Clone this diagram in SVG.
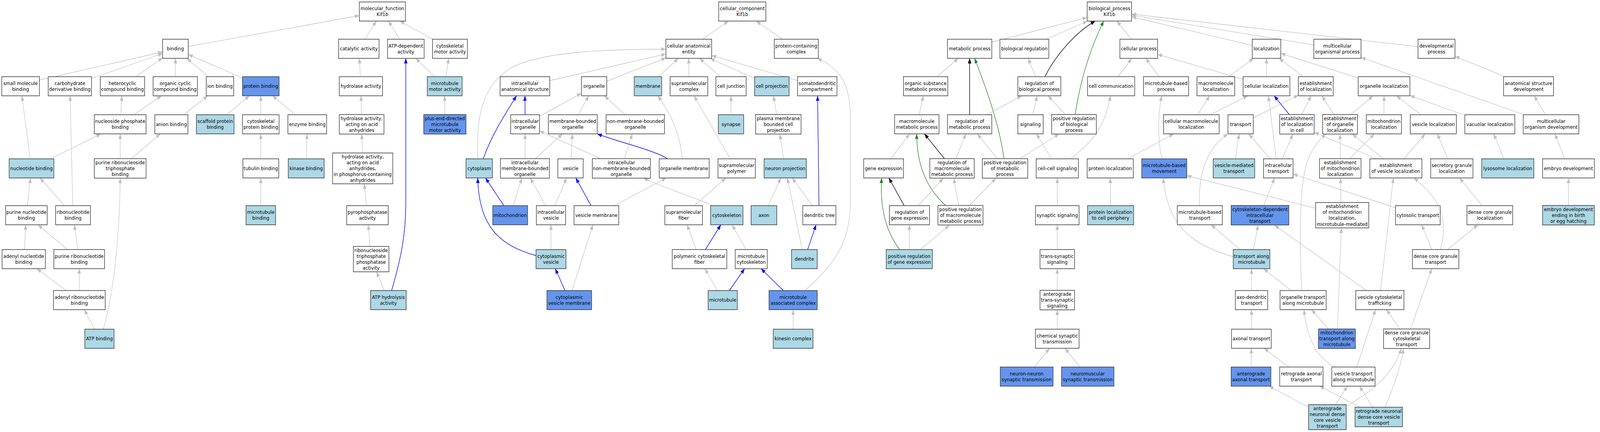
<svg xmlns="http://www.w3.org/2000/svg" width="4533" height="1107" viewBox="0 0 4533 1107">
<style>
.w rect{fill:#ffffff;stroke:#333333;stroke-width:1.5}
.l rect{fill:#add8e6;stroke:#333333;stroke-width:1.5}
.c rect{fill:#6495ed;stroke:#333333;stroke-width:1.5}
text{font-family:'DejaVu Sans','Liberation Sans',sans-serif;font-size:13px;text-anchor:middle;fill:#000000}
#edges path{fill:none;stroke:#c0c0c0;stroke-width:1.3;marker-end:url(#ag)}
#edges path.b{stroke:#0000ff;stroke-width:1.5;marker-end:url(#ab)}
#edges path.k{stroke:#000000;stroke-width:1.5;marker-end:url(#ak)}
#edges path.g{stroke:#228b22;stroke-width:1.5;marker-end:url(#agr)}
</style>
<defs>
<marker id="ag" viewBox="0 0 13 10" refX="13" refY="5" markerWidth="13" markerHeight="10" orient="auto" markerUnits="userSpaceOnUse"><path d="M0,0 L13,5 L0,10 z" fill="#c0c0c0"/></marker>
<marker id="ab" viewBox="0 0 13 10" refX="13" refY="5" markerWidth="13" markerHeight="10" orient="auto" markerUnits="userSpaceOnUse"><path d="M0,0 L13,5 L0,10 z" fill="#0000ff"/></marker>
<marker id="ak" viewBox="0 0 13 10" refX="13" refY="5" markerWidth="13" markerHeight="10" orient="auto" markerUnits="userSpaceOnUse"><path d="M0,0 L13,5 L0,10 z" fill="#000000"/></marker>
<marker id="agr" viewBox="0 0 13 10" refX="13" refY="5" markerWidth="13" markerHeight="10" orient="auto" markerUnits="userSpaceOnUse"><path d="M0,0 L13,5 L0,10 z" fill="#228b22"/></marker>
</defs>
<rect x="0" y="0" width="4533" height="1107" fill="#ffffff"/>
<g id="diagram" transform="scale(0.901 1)">
<g id="edges">
<path d="M535,119 L1021,40"/>
<path d="M112,205 L462,133"/>
<path d="M260,201 L462,137"/>
<path d="M386,196.5 L462,148"/>
<path d="M498,196.5 L498.5,149.5"/>
<path d="M592.7,196.5 L530.8,149.5"/>
<path d="M689,200 L535,139.5"/>
<path d="M1036.7,100.5 L1069.3,54"/>
<path d="M1135.9,100.5 L1103.6,54"/>
<path d="M1229.2,100.5 L1135.8,54"/>
<path d="M1024,196.5 L1021,149.5"/>
<path d="M1235.3,196.5 L1181.2,149.5"/>
<path d="M1267.3,196.5 L1274.7,149.5"/>
<path d="M85.9,407 L62.1,245.5"/>
<path d="M206.8,527 L199.2,245.5"/>
<path d="M343.1,294 L346.4,245.5"/>
<path d="M380.8,294 L458.7,245.5"/>
<path d="M521.7,294 L590.3,245.5"/>
<path d="M644,294 L708.5,245.5"/>
<path d="M741,294 L741,245.5"/>
<path d="M839.8,294 L774.2,245.5"/>
<path d="M1027,293.5 L1026,245.5"/>
<path d="M1264,293.5 L1263.5,245.5"/>
<path d="M144.1,407 L286.9,343"/>
<path d="M341.5,406.5 L341.5,343"/>
<path d="M373,406.5 L455.5,343"/>
<path d="M741,407 L741,343"/>
<path d="M870.6,407 L872.4,343"/>
<path d="M1030.4,392 L1027.6,343.5"/>
<path d="M78,527 L86.5,456"/>
<path d="M183.4,527 L113.6,456"/>
<path d="M741,527 L741,456"/>
<path d="M1041.2,527 L1034.9,471"/>
<path d="M69.1,639.5 L73.4,576"/>
<path d="M192.3,639.5 L107.7,576"/>
<path d="M221.2,639.5 L211.3,576"/>
<path d="M1051.5,631.5 L1046.3,576"/>
<path d="M188.6,744.5 L104.4,688.5"/>
<path d="M225.4,744.5 L225.1,688.5"/>
<path d="M1092.1,744.5 L1069.7,696.5"/>
<path d="M268.4,843.5 L239.6,793.5"/>
<path d="M293.5,843.5 C320,760 340,620 341.5,456.5"/>
<path class="b" d="M1112.7,744.5 C1140,660 1153,600 1153,520 L1153,149.5"/>
<path d="M1996,100.5 L2070,54"/>
<path d="M2223.1,100.5 L2148.4,54"/>
<path d="M1562,206.5 L1892,138.4"/>
<path d="M1357.5,407 C1352,300 1370,220 1450,175 C1530,135 1700,126 1892,126"/>
<path d="M1724,208.2 L1892,148.2"/>
<path d="M1870.6,196.5 L1927.4,149.5"/>
<path d="M1957.5,196.5 L1957,149.5"/>
<path d="M2046.4,196.5 L1987.6,149.5"/>
<path d="M2144,201.1 L2017.2,149.5"/>
<path d="M2266,206.3 L2022,142.1"/>
<path class="b" d="M1492,294 L1491.5,245.5"/>
<path d="M1533,298.1 L1652,238.9"/>
<path d="M1642.7,294 L1672.8,245.5"/>
<path d="M1775.6,294 L1717.4,245.5"/>
<path d="M2077,294 L2077,245.5"/>
<path d="M2206.9,293.5 L2197.6,245.5"/>
<path class="b" d="M1373,407 C1395,350 1430,300 1467.5,245.5"/>
<path d="M1491.5,406.5 L1492,343"/>
<path d="M1521,406.5 L1598,343"/>
<path d="M1622.4,407 L1626.1,343"/>
<path d="M1706.2,406.5 L1533,335.4"/>
<path d="M1774.1,406.5 L1796.4,343"/>
<path class="b" d="M1897,407 C1860,385 1760,365 1697,343"/>
<path d="M1939,407 C1930,330 1900,285 1869,245.5"/>
<path d="M2074.7,407 L1972,245.5"/>
<path d="M2226.8,407 L2215.7,343.5"/>
<path class="b" d="M1431.5,527 L1379.5,456"/>
<path d="M1458.1,527 L1482.9,456.5"/>
<path d="M1550.4,527 L1506.6,456.5"/>
<path d="M1576.8,527 L1609.7,456"/>
<path class="b" d="M1679.5,527 L1636,456"/>
<path d="M1745.4,527 L1893.1,456"/>
<path d="M1973.2,527 L2062.3,456"/>
<path d="M2024,527 C1960,500 1880,480 1828,456.5"/>
<path d="M2182.9,527 L2218.6,456"/>
<path d="M2308.2,527 L2250.8,456"/>
<path class="b" d="M2327,527 L2323,245.5"/>
<path class="b" d="M2294.8,639.5 L2318.7,576"/>
<path d="M2279.5,639.5 L2237,456"/>
<path d="M1565.5,639.5 L1565.5,576"/>
<path class="b" d="M1523,655 C1420,630 1360,580 1357.5,456"/>
<path class="b" d="M1605.4,744.5 L1577.6,688.5"/>
<path d="M1625.4,744.5 L1684.5,576"/>
<path d="M1977.7,639.5 L1952.3,576"/>
<path class="b" d="M2004.4,639.5 L2048.1,576"/>
<path d="M2119.4,639.5 L2080.1,576"/>
<path d="M2038.1,744.5 L2002.9,688.5"/>
<path class="b" d="M2072.4,744.5 L2115.6,688.5"/>
<path class="b" d="M2225.7,744.5 L2162.3,688.5"/>
<path d="M2253.5,843.5 L2253.5,793.5"/>
<path d="M2287,744.5 C2370,680 2416,620 2416,520 L2416,300 C2416,220 2390,175 2322,149.5"/>
<path d="M2818,108 L3089,44.7"/>
<path d="M2972.5,100.5 L3090,54"/>
<path class="k" d="M2969,196.5 C3000,140 3060,80 3112,54"/>
<path class="g" d="M3055,293.5 C3070,200 3100,120 3136,54"/>
<path d="M3214.1,100.5 L3173.4,54"/>
<path d="M3558,116.3 L3215,43"/>
<path d="M3733,115.1 L3215,38.8"/>
<path d="M4029,119.6 L3215,36"/>
<path d="M2661.9,196.5 L2723.1,149.5"/>
<path class="k" d="M2755,294 L2755,149.5"/>
<path class="g" d="M2852.5,406.5 C2840,320 2800,220 2769,149.5"/>
<path d="M2942.2,196.5 L2921.3,149.5"/>
<path d="M2611.3,294 L2623.7,245.5"/>
<path d="M2804.8,294 L2903.2,245.5"/>
<path d="M2934.3,294 L2946.7,245.5"/>
<path d="M3026.7,293.5 L2977.8,245.5"/>
<path d="M2531,407 L2584.5,343"/>
<path class="k" d="M2683.3,406.5 L2626.7,343"/>
<path class="g" d="M2686.7,526.5 C2630,480 2605,420 2604.5,343"/>
<path d="M2715.8,406.5 L2744.2,343"/>
<path d="M2833.7,406.5 L2776.8,343"/>
<path d="M2898,406.5 L3009,343.5"/>
<path d="M2987.5,407 L2944.5,343"/>
<path d="M3042,407 C3110,360 3140,320 3155.5,245.5"/>
<path class="k" d="M2569,527 L2525.5,456"/>
<path class="g" d="M2556,639.5 C2515,590 2500,530 2505,456"/>
<path d="M2608.7,527 L2680.3,456.5"/>
<path d="M2724.1,526.5 L2709.9,456.5"/>
<path d="M2754.8,526.5 L2829.7,456.5"/>
<path d="M3004,527 L3004,456"/>
<path d="M2583.5,639.5 L2584,576"/>
<path d="M2615.2,639.5 L2697.3,577"/>
<path d="M3004,639.5 L3004,576"/>
<path d="M3004,744 L3004,688.5"/>
<path d="M3004,843.5 L3004,794"/>
<path d="M2939,940.5 L2982,892.5"/>
<path d="M3068.7,940.5 L3025.8,892.5"/>
<path d="M3177,196.5 L3215.5,149.5"/>
<path d="M3293.2,196.5 L3255.3,149.5"/>
<path d="M3532,203.4 L3289,139.1"/>
<path d="M3491.2,196.5 L3561.8,149.5"/>
<path d="M3598.5,196.5 L3598.5,149.5"/>
<path d="M3702.8,196.5 L3634.2,149.5"/>
<path d="M3859,199.9 L3639,136.6"/>
<path d="M4330,294 L3867,147"/>
<path d="M3402.5,294 L3437,245.5"/>
<path d="M3438.6,294 L3544.9,245.5"/>
<path d="M3561,302.1 L3689,243.6"/>
<path class="b" d="M3663.3,293.5 L3620.2,245.5"/>
<path d="M3698.4,293.5 L3725.1,245.5"/>
<path d="M3790.2,293.5 L3755.8,245.5"/>
<path d="M3838.9,293.5 L3901.1,245.5"/>
<path d="M3932,294 L3932.5,245.5"/>
<path d="M4037.3,294 L3967.7,245.5"/>
<path d="M4162,295.5 L4006,244.8"/>
<path d="M4391,294 L4359,245.5"/>
<path d="M4276.3,196.5 L4134,144.3"/>
<path d="M3204.5,407 L3335,343"/>
<path d="M3301,407 C3288,350 3290,290 3301,245.5"/>
<path d="M3510.1,407 L3520.9,343"/>
<path d="M3608.8,407 L3548.2,343"/>
<path d="M3626,407 L3604,245.5"/>
<path d="M3643.5,407 L3673.5,343.5"/>
<path d="M3808,406.5 L3807.5,343.5"/>
<path d="M3834.9,406.5 L3905.1,343"/>
<path d="M3912,407 L3734,339"/>
<path d="M3931.6,407 L3841.9,343.5"/>
<path d="M3989.1,407 L4049.4,343"/>
<path d="M4113.6,407 L4083.9,343"/>
<path d="M4273,407 L4244,343"/>
<path d="M4445.8,407 L4417.7,343"/>
<path d="M3155.5,527 L3154.5,456"/>
<path d="M3408,527 C3405,440 3430,380 3489,342.5"/>
<path d="M3590.6,526.5 L3621.4,456"/>
<path d="M3738,533.6 L3372,450"/>
<path d="M3810,519 L3809,456.5"/>
<path d="M3965,532.3 L3674,446"/>
<path d="M4211,527 L4147,456"/>
<path d="M4456.5,526.5 L4456.5,456"/>
<path d="M3524,639.5 L3441,576"/>
<path d="M3561.2,639.5 L3574.7,577"/>
<path d="M3504,658 C3400,630 3318,590 3305,456"/>
<path d="M4068,639.5 L4039.5,576"/>
<path d="M4092.5,639.5 C4110,580 4110,520 4017,456"/>
<path d="M4112.5,639.5 L4199.5,576"/>
<path d="M3556,744.5 L3556,688.5"/>
<path d="M3668.3,744.5 L3590.2,688.5"/>
<path d="M3698.6,744.5 C3692,620 3692,480 3712,420 C3725,385 3745,360 3768,343.5"/>
<path d="M3882.6,744.5 L3621,577"/>
<path d="M3922.8,744.5 L3959,456"/>
<path d="M3555.5,843.5 L3556,793.5"/>
<path d="M3800,843 L3811,584"/>
<path d="M3774.7,843 L3726.3,793.5"/>
<path d="M3977.7,843 L3939.3,793.5"/>
<path d="M4007.7,843 L4068,688.5"/>
<path d="M3554.5,940.5 L3555.5,892.5"/>
<path d="M3661.6,940.5 L3591.4,892.5"/>
<path d="M3855,940.5 L3908.3,793.5"/>
<path d="M3792,940.5 C3750,920 3715,880 3705,793.5"/>
<path d="M3718,1043.4 L3605.6,989.5"/>
<path d="M3794.3,1037 L3828.1,989.5"/>
<path d="M3825,1042 C3900,1000 3960,960 3981,893"/>
<path d="M3864.4,1043.5 L3749.6,989.5"/>
<path d="M3900.1,1043.5 L3862.5,989.5"/>
<path d="M3935,1043.5 C3955,1000 3978,950 3988,893"/>
</g>
<g id="n_mf" class="w"><rect x="1021" y="5" width="131" height="49"/><text><tspan x="1086.5" y="26.5">molecular_function</tspan><tspan x="1086.5" y="41.5">Kif1b</tspan></text></g>
<g id="n_binding" class="w"><rect x="462" y="100.5" width="73" height="49"/><text><tspan x="498.5" y="129.5">binding</tspan></text></g>
<g id="n_catalytic" class="w"><rect x="962" y="100.5" width="115" height="49"/><text><tspan x="1019.5" y="129.5">catalytic activity</tspan></text></g>
<g id="n_atpdep" class="w"><rect x="1101" y="100.5" width="104" height="49"/><text><tspan x="1153" y="122">ATP-dependent</tspan><tspan x="1153" y="137">activity</tspan></text></g>
<g id="n_cytomotor" class="w"><rect x="1229" y="100.5" width="99" height="49"/><text><tspan x="1278.5" y="122">cytoskeletal</tspan><tspan x="1278.5" y="137">motor activity</tspan></text></g>
<g id="n_smallmol" class="w"><rect x="5" y="196.5" width="107" height="49"/><text><tspan x="58.5" y="218">small molecule</tspan><tspan x="58.5" y="233">binding</tspan></text></g>
<g id="n_carbo" class="w"><rect x="137" y="196.5" width="123" height="49"/><text><tspan x="198.5" y="218">carbohydrate</tspan><tspan x="198.5" y="233">derivative binding</tspan></text></g>
<g id="n_hetero" class="w"><rect x="285" y="196.5" width="126" height="49"/><text><tspan x="348" y="218">heterocyclic</tspan><tspan x="348" y="233">compound binding</tspan></text></g>
<g id="n_orgcyc" class="w"><rect x="435" y="196.5" width="126" height="49"/><text><tspan x="498" y="218">organic cyclic</tspan><tspan x="498" y="233">compound binding</tspan></text></g>
<g id="n_ion" class="w"><rect x="586" y="196.5" width="78" height="49"/><text><tspan x="625" y="225.5">ion binding</tspan></text></g>
<g id="n_protein" class="c"><rect x="689" y="196.5" width="104" height="49"/><text><tspan x="741" y="225.5">protein binding</tspan></text></g>
<g id="n_hydrolase" class="w"><rect x="964" y="196.5" width="123" height="49"/><text><tspan x="1025.5" y="225.5">hydrolase activity</tspan></text></g>
<g id="n_mtmotor" class="l"><rect x="1214" y="196.5" width="99" height="49"/><text><tspan x="1263.5" y="218">microtubule</tspan><tspan x="1263.5" y="233">motor activity</tspan></text></g>
<g id="n_nucphos" class="w"><rect x="268" y="294" width="147" height="49"/><text><tspan x="341.5" y="315.5">nucleoside phosphate</tspan><tspan x="341.5" y="330.5">binding</tspan></text></g>
<g id="n_anion" class="w"><rect x="440" y="294" width="94" height="49"/><text><tspan x="487" y="323">anion binding</tspan></text></g>
<g id="n_scaffold" class="l"><rect x="558" y="294" width="107" height="49"/><text><tspan x="611.5" y="315.5">scaffold protein</tspan><tspan x="611.5" y="330.5">binding</tspan></text></g>
<g id="n_cytoprot" class="w"><rect x="689" y="294" width="104" height="49"/><text><tspan x="741" y="315.5">cytoskeletal</tspan><tspan x="741" y="330.5">protein binding</tspan></text></g>
<g id="n_enzyme" class="w"><rect x="818" y="294" width="110" height="49"/><text><tspan x="873" y="323">enzyme binding</tspan></text></g>
<g id="n_hydacid" class="w"><rect x="964" y="293.5" width="127" height="50"/><text><tspan x="1027.5" y="308">hydrolase activity,</tspan><tspan x="1027.5" y="323">acting on acid</tspan><tspan x="1027.5" y="338">anhydrides</tspan></text></g>
<g id="n_plusend" class="c"><rect x="1204" y="293.5" width="120" height="50"/><text><tspan x="1264" y="308">plus-end-directed</tspan><tspan x="1264" y="323">microtubule</tspan><tspan x="1264" y="338">motor activity</tspan></text></g>
<g id="n_nucleotide" class="l"><rect x="26" y="407" width="127" height="49"/><text><tspan x="89.5" y="436">nucleotide binding</tspan></text></g>
<g id="n_prtp" class="w"><rect x="268" y="406.5" width="147" height="50"/><text><tspan x="341.5" y="421">purine ribonucleoside</tspan><tspan x="341.5" y="436">triphosphate</tspan><tspan x="341.5" y="451">binding</tspan></text></g>
<g id="n_tubulin" class="w"><rect x="690" y="407" width="102" height="49"/><text><tspan x="741" y="436">tubulin binding</tspan></text></g>
<g id="n_kinase" class="l"><rect x="819" y="407" width="102" height="49"/><text><tspan x="870" y="436">kinase binding</tspan></text></g>
<g id="n_hydphos" class="w"><rect x="945" y="392" width="171" height="79"/><text><tspan x="1030.5" y="406">hydrolase activity,</tspan><tspan x="1030.5" y="421">acting on acid</tspan><tspan x="1030.5" y="436">anhydrides,</tspan><tspan x="1030.5" y="451">in phosphorus-containing</tspan><tspan x="1030.5" y="466">anhydrides</tspan></text></g>
<g id="n_purnuc" class="w"><rect x="16" y="527" width="118" height="49"/><text><tspan x="75" y="548.5">purine nucleotide</tspan><tspan x="75" y="563.5">binding</tspan></text></g>
<g id="n_ribonuc" class="w"><rect x="158" y="527" width="99" height="49"/><text><tspan x="207.5" y="548.5">ribonucleotide</tspan><tspan x="207.5" y="563.5">binding</tspan></text></g>
<g id="n_mtbind" class="l"><rect x="699" y="527" width="84" height="49"/><text><tspan x="741" y="548.5">microtubule</tspan><tspan x="741" y="563.5">binding</tspan></text></g>
<g id="n_pyro" class="w"><rect x="985" y="527" width="118" height="49"/><text><tspan x="1044" y="548.5">pyrophosphatase</tspan><tspan x="1044" y="563.5">activity</tspan></text></g>
<g id="n_adenuc" class="w"><rect x="6" y="639.5" width="123" height="49"/><text><tspan x="67.5" y="661">adenyl nucleotide</tspan><tspan x="67.5" y="676">binding</tspan></text></g>
<g id="n_purribo" class="w"><rect x="153" y="639.5" width="144" height="49"/><text><tspan x="225" y="661">purine ribonucleotide</tspan><tspan x="225" y="676">binding</tspan></text></g>
<g id="n_rtpp" class="w"><rect x="1004" y="631.5" width="101" height="65"/><text><tspan x="1054.5" y="646">ribonucleoside</tspan><tspan x="1054.5" y="661">triphosphate</tspan><tspan x="1054.5" y="676">phosphatase</tspan><tspan x="1054.5" y="691">activity</tspan></text></g>
<g id="n_adenribo" class="w"><rect x="152" y="744.5" width="147" height="49"/><text><tspan x="225.5" y="766">adenyl ribonucleotide</tspan><tspan x="225.5" y="781">binding</tspan></text></g>
<g id="n_atphyd" class="l"><rect x="1053" y="744.5" width="101" height="49"/><text><tspan x="1103.5" y="766">ATP hydrolysis</tspan><tspan x="1103.5" y="781">activity</tspan></text></g>
<g id="n_atpbind" class="l"><rect x="241" y="843.5" width="83" height="49"/><text><tspan x="282.5" y="872.5">ATP binding</tspan></text></g>
<g id="n_cc" class="w"><rect x="2042" y="5" width="134" height="49"/><text><tspan x="2109" y="26.5">cellular_component</tspan><tspan x="2109" y="41.5">Kif1b</tspan></text></g>
<g id="n_cae" class="w"><rect x="1892" y="100.5" width="130" height="49"/><text><tspan x="1957" y="122">cellular anatomical</tspan><tspan x="1957" y="137">entity</tspan></text></g>
<g id="n_pcc" class="w"><rect x="2200" y="100.5" width="125" height="49"/><text><tspan x="2262.5" y="122">protein-containing</tspan><tspan x="2262.5" y="137">complex</tspan></text></g>
<g id="n_ias" class="w"><rect x="1421" y="196.5" width="141" height="49"/><text><tspan x="1491.5" y="218">intracellular</tspan><tspan x="1491.5" y="233">anatomical structure</tspan></text></g>
<g id="n_organelle" class="w"><rect x="1652" y="196.5" width="72" height="49"/><text><tspan x="1688" y="225.5">organelle</tspan></text></g>
<g id="n_membrane" class="l"><rect x="1802" y="196.5" width="78" height="49"/><text><tspan x="1841" y="225.5">membrane</tspan></text></g>
<g id="n_supcomplex" class="w"><rect x="1904" y="196.5" width="107" height="49"/><text><tspan x="1957.5" y="218">supramolecular</tspan><tspan x="1957.5" y="233">complex</tspan></text></g>
<g id="n_celljunc" class="w"><rect x="2034" y="196.5" width="86" height="49"/><text><tspan x="2077" y="225.5">cell junction</tspan></text></g>
<g id="n_cellproj" class="l"><rect x="2144" y="196.5" width="98" height="49"/><text><tspan x="2193" y="225.5">cell projection</tspan></text></g>
<g id="n_somato" class="w"><rect x="2266" y="196.5" width="112" height="49"/><text><tspan x="2322" y="218">somatodendritic</tspan><tspan x="2322" y="233">compartment</tspan></text></g>
<g id="n_intorg" class="w"><rect x="1451" y="294" width="82" height="49"/><text><tspan x="1492" y="315.5">intracellular</tspan><tspan x="1492" y="330.5">organelle</tspan></text></g>
<g id="n_mbo" class="w"><rect x="1558" y="294" width="139" height="49"/><text><tspan x="1627.5" y="315.5">membrane-bounded</tspan><tspan x="1627.5" y="330.5">organelle</tspan></text></g>
<g id="n_nmbo" class="w"><rect x="1722" y="294" width="166" height="49"/><text><tspan x="1805" y="315.5">non-membrane-bounded</tspan><tspan x="1805" y="330.5">organelle</tspan></text></g>
<g id="n_synapse" class="l"><rect x="2041" y="294" width="72" height="49"/><text><tspan x="2077" y="323">synapse</tspan></text></g>
<g id="n_pmbcp" class="w"><rect x="2147" y="293.5" width="129" height="50"/><text><tspan x="2211.5" y="308">plasma membrane</tspan><tspan x="2211.5" y="323">bounded cell</tspan><tspan x="2211.5" y="338">projection</tspan></text></g>
<g id="n_cytoplasm" class="l"><rect x="1324" y="407" width="75" height="49"/><text><tspan x="1361.5" y="436">cytoplasm</tspan></text></g>
<g id="n_imbo" class="w"><rect x="1422" y="406.5" width="139" height="50"/><text><tspan x="1491.5" y="421">intracellular</tspan><tspan x="1491.5" y="436">membrane-bounded</tspan><tspan x="1491.5" y="451">organelle</tspan></text></g>
<g id="n_vesicle" class="w"><rect x="1585" y="407" width="72" height="49"/><text><tspan x="1621" y="436">vesicle</tspan></text></g>
<g id="n_inmbo" class="w"><rect x="1683" y="406.5" width="165" height="50"/><text><tspan x="1765.5" y="421">intracellular</tspan><tspan x="1765.5" y="436">non-membrane-bounded</tspan><tspan x="1765.5" y="451">organelle</tspan></text></g>
<g id="n_orgmem" class="w"><rect x="1873" y="407" width="142" height="49"/><text><tspan x="1944" y="436">organelle membrane</tspan></text></g>
<g id="n_suppoly" class="w"><rect x="2040" y="407" width="106" height="49"/><text><tspan x="2093" y="428.5">supramolecular</tspan><tspan x="2093" y="443.5">polymer</tspan></text></g>
<g id="n_neuproj" class="l"><rect x="2171" y="407" width="120" height="49"/><text><tspan x="2231" y="436">neuron projection</tspan></text></g>
<g id="n_mito" class="c"><rect x="1400" y="527" width="99" height="49"/><text><tspan x="1449.5" y="556">mitochondrion</tspan></text></g>
<g id="n_intves" class="w"><rect x="1524" y="527" width="83" height="49"/><text><tspan x="1565.5" y="548.5">intracellular</tspan><tspan x="1565.5" y="563.5">vesicle</tspan></text></g>
<g id="n_vesmem" class="w"><rect x="1631" y="527" width="127" height="49"/><text><tspan x="1694.5" y="556">vesicle membrane</tspan></text></g>
<g id="n_supfiber" class="w"><rect x="1889" y="527" width="107" height="49"/><text><tspan x="1942.5" y="548.5">supramolecular</tspan><tspan x="1942.5" y="563.5">fiber</tspan></text></g>
<g id="n_cytoskel" class="l"><rect x="2019" y="527" width="92" height="49"/><text><tspan x="2065" y="556">cytoskeleton</tspan></text></g>
<g id="n_axon" class="l"><rect x="2134" y="527" width="73" height="49"/><text><tspan x="2170.5" y="556">axon</tspan></text></g>
<g id="n_dendtree" class="w"><rect x="2281" y="527" width="94" height="49"/><text><tspan x="2328" y="556">dendritic tree</tspan></text></g>
<g id="n_cytoves" class="l"><rect x="1523" y="639.5" width="85" height="49"/><text><tspan x="1565.5" y="661">cytoplasmic</tspan><tspan x="1565.5" y="676">vesicle</tspan></text></g>
<g id="n_polyfib" class="w"><rect x="1910" y="639.5" width="155" height="49"/><text><tspan x="1987.5" y="661">polymeric cytoskeletal</tspan><tspan x="1987.5" y="676">fiber</tspan></text></g>
<g id="n_mtcyto" class="w"><rect x="2089" y="639.5" width="91" height="49"/><text><tspan x="2134.5" y="661">microtubule</tspan><tspan x="2134.5" y="676">cytoskeleton</tspan></text></g>
<g id="n_dendrite" class="l"><rect x="2249" y="639.5" width="73" height="49"/><text><tspan x="2285.5" y="668.5">dendrite</tspan></text></g>
<g id="n_cvm" class="c"><rect x="1554" y="744.5" width="127" height="49"/><text><tspan x="1617.5" y="766">cytoplasmic</tspan><tspan x="1617.5" y="781">vesicle membrane</tspan></text></g>
<g id="n_mt" class="l"><rect x="2012" y="744.5" width="83" height="49"/><text><tspan x="2053.5" y="773.5">microtubule</tspan></text></g>
<g id="n_mac" class="c"><rect x="2185" y="744.5" width="137" height="49"/><text><tspan x="2253.5" y="766">microtubule</tspan><tspan x="2253.5" y="781">associated complex</tspan></text></g>
<g id="n_kinesin" class="l"><rect x="2197" y="843.5" width="113" height="49"/><text><tspan x="2253.5" y="872.5">kinesin complex</tspan></text></g>
<g id="n_bp" class="w"><rect x="3089" y="5" width="126" height="49"/><text><tspan x="3152" y="26.5">biological_process</tspan><tspan x="3152" y="41.5">Kif1b</tspan></text></g>
<g id="n_metab" class="w"><rect x="2692" y="100.5" width="126" height="49"/><text><tspan x="2755" y="129.5">metabolic process</tspan></text></g>
<g id="n_bioreg" class="w"><rect x="2841" y="100.5" width="139" height="49"/><text><tspan x="2910.5" y="129.5">biological regulation</tspan></text></g>
<g id="n_cellproc" class="w"><rect x="3182" y="100.5" width="107" height="49"/><text><tspan x="3235.5" y="129.5">cellular process</tspan></text></g>
<g id="n_loc" class="w"><rect x="3558" y="100.5" width="81" height="49"/><text><tspan x="3598.5" y="129.5">localization</tspan></text></g>
<g id="n_mop" class="w"><rect x="3733" y="100.5" width="134" height="49"/><text><tspan x="3800" y="122">multicellular</tspan><tspan x="3800" y="137">organismal process</tspan></text></g>
<g id="n_devproc" class="w"><rect x="4029" y="100.5" width="105" height="49"/><text><tspan x="4081.5" y="122">developmental</tspan><tspan x="4081.5" y="137">process</tspan></text></g>
<g id="n_osmp" class="w"><rect x="2567" y="196.5" width="126" height="49"/><text><tspan x="2630" y="218">organic substance</tspan><tspan x="2630" y="233">metabolic process</tspan></text></g>
<g id="n_rbp" class="w"><rect x="2892" y="196.5" width="122" height="49"/><text><tspan x="2953" y="218">regulation of</tspan><tspan x="2953" y="233">biological process</tspan></text></g>
<g id="n_cellcomm" class="w"><rect x="3090" y="196.5" width="134" height="49"/><text><tspan x="3157" y="225.5">cell communication</tspan></text></g>
<g id="n_mtbp" class="w"><rect x="3249" y="196.5" width="128" height="49"/><text><tspan x="3313" y="218">microtubule-based</tspan><tspan x="3313" y="233">process</tspan></text></g>
<g id="n_macloc" class="w"><rect x="3401" y="196.5" width="107" height="49"/><text><tspan x="3454.5" y="218">macromolecule</tspan><tspan x="3454.5" y="233">localization</tspan></text></g>
<g id="n_cellloc" class="w"><rect x="3532" y="196.5" width="133" height="49"/><text><tspan x="3598.5" y="225.5">cellular localization</tspan></text></g>
<g id="n_estloc" class="w"><rect x="3689" y="196.5" width="99" height="49"/><text><tspan x="3738.5" y="218">establishment</tspan><tspan x="3738.5" y="233">of localization</tspan></text></g>
<g id="n_orgloc" class="w"><rect x="3859" y="196.5" width="147" height="49"/><text><tspan x="3932.5" y="225.5">organelle localization</tspan></text></g>
<g id="n_asd" class="w"><rect x="4272" y="196.5" width="142" height="49"/><text><tspan x="4343" y="218">anatomical structure</tspan><tspan x="4343" y="233">development</tspan></text></g>
<g id="n_mmp" class="w"><rect x="2542" y="294" width="126" height="49"/><text><tspan x="2605" y="315.5">macromolecule</tspan><tspan x="2605" y="330.5">metabolic process</tspan></text></g>
<g id="n_rmp" class="w"><rect x="2692" y="294" width="126" height="49"/><text><tspan x="2755" y="315.5">regulation of</tspan><tspan x="2755" y="330.5">metabolic process</tspan></text></g>
<g id="n_signaling" class="w"><rect x="2892" y="294" width="72" height="49"/><text><tspan x="2928" y="323">signaling</tspan></text></g>
<g id="n_prbp" class="w"><rect x="2988" y="293.5" width="127" height="50"/><text><tspan x="3051.5" y="308">positive regulation</tspan><tspan x="3051.5" y="323">of biological</tspan><tspan x="3051.5" y="338">process</tspan></text></g>
<g id="n_cml" class="w"><rect x="3306" y="294" width="158" height="49"/><text><tspan x="3385" y="315.5">cellular macromolecule</tspan><tspan x="3385" y="330.5">localization</tspan></text></g>
<g id="n_transport" class="w"><rect x="3489" y="294" width="72" height="49"/><text><tspan x="3525" y="323">transport</tspan></text></g>
<g id="n_elic" class="w"><rect x="3636" y="293.5" width="98" height="50"/><text><tspan x="3685" y="308">establishment</tspan><tspan x="3685" y="323">of localization</tspan><tspan x="3685" y="338">in cell</tspan></text></g>
<g id="n_eol" class="w"><rect x="3758" y="293.5" width="99" height="50"/><text><tspan x="3807.5" y="308">establishment</tspan><tspan x="3807.5" y="323">of organelle</tspan><tspan x="3807.5" y="338">localization</tspan></text></g>
<g id="n_mitoloc" class="w"><rect x="3882" y="294" width="100" height="49"/><text><tspan x="3932" y="315.5">mitochondrion</tspan><tspan x="3932" y="330.5">localization</tspan></text></g>
<g id="n_vesloc" class="w"><rect x="4007" y="294" width="131" height="49"/><text><tspan x="4072.5" y="323">vesicle localization</tspan></text></g>
<g id="n_vacloc" class="w"><rect x="4162" y="294" width="142" height="49"/><text><tspan x="4233" y="323">vacuolar localization</tspan></text></g>
<g id="n_mod" class="w"><rect x="4328" y="294" width="158" height="49"/><text><tspan x="4407" y="315.5">multicellular</tspan><tspan x="4407" y="330.5">organism development</tspan></text></g>
<g id="n_geneexp" class="w"><rect x="2454" y="407" width="113" height="49"/><text><tspan x="2510.5" y="436">gene expression</tspan></text></g>
<g id="n_rmmp" class="w"><rect x="2642" y="406.5" width="126" height="50"/><text><tspan x="2705" y="421">regulation of</tspan><tspan x="2705" y="436">macromolecule</tspan><tspan x="2705" y="451">metabolic process</tspan></text></g>
<g id="n_prmp" class="w"><rect x="2791" y="406.5" width="129" height="50"/><text><tspan x="2855.5" y="421">positive regulation</tspan><tspan x="2855.5" y="436">of metabolic</tspan><tspan x="2855.5" y="451">process</tspan></text></g>
<g id="n_ccs" class="w"><rect x="2944" y="407" width="120" height="49"/><text><tspan x="3004" y="436">cell-cell signaling</tspan></text></g>
<g id="n_protloc" class="w"><rect x="3089" y="407" width="131" height="49"/><text><tspan x="3154.5" y="436">protein localization</tspan></text></g>
<g id="n_mtbm" class="c"><rect x="3244" y="407" width="128" height="49"/><text><tspan x="3308" y="428.5">microtubule-based</tspan><tspan x="3308" y="443.5">movement</tspan></text></g>
<g id="n_vmt" class="l"><rect x="3447" y="407" width="118" height="49"/><text><tspan x="3506" y="428.5">vesicle-mediated</tspan><tspan x="3506" y="443.5">transport</tspan></text></g>
<g id="n_inttrans" class="w"><rect x="3590" y="407" width="84" height="49"/><text><tspan x="3632" y="428.5">intracellular</tspan><tspan x="3632" y="443.5">transport</tspan></text></g>
<g id="n_eml" class="w"><rect x="3749" y="406.5" width="118" height="50"/><text><tspan x="3808" y="421">establishment</tspan><tspan x="3808" y="436">of mitochondrion</tspan><tspan x="3808" y="451">localization</tspan></text></g>
<g id="n_evl" class="w"><rect x="3892" y="407" width="148" height="49"/><text><tspan x="3966" y="428.5">establishment</tspan><tspan x="3966" y="443.5">of vesicle localization</tspan></text></g>
<g id="n_sgl" class="w"><rect x="4065" y="407" width="120" height="49"/><text><tspan x="4125" y="428.5">secretory granule</tspan><tspan x="4125" y="443.5">localization</tspan></text></g>
<g id="n_lysoloc" class="l"><rect x="4210" y="407" width="148" height="49"/><text><tspan x="4284" y="436">lysosome localization</tspan></text></g>
<g id="n_embdev" class="w"><rect x="4383" y="407" width="147" height="49"/><text><tspan x="4456.5" y="436">embryo development</tspan></text></g>
<g id="n_rge" class="w"><rect x="2527" y="527" width="114" height="49"/><text><tspan x="2584" y="548.5">regulation of</tspan><tspan x="2584" y="563.5">gene expression</tspan></text></g>
<g id="n_prmmp" class="w"><rect x="2665" y="526.5" width="128" height="50"/><text><tspan x="2729" y="541">positive regulation</tspan><tspan x="2729" y="556">of macromolecule</tspan><tspan x="2729" y="571">metabolic process</tspan></text></g>
<g id="n_synsig" class="w"><rect x="2942" y="527" width="124" height="49"/><text><tspan x="3004" y="556">synaptic signaling</tspan></text></g>
<g id="n_plcp" class="l"><rect x="3090" y="527" width="131" height="49"/><text><tspan x="3155.5" y="548.5">protein localization</tspan><tspan x="3155.5" y="563.5">to cell periphery</tspan></text></g>
<g id="n_mtbt" class="w"><rect x="3345" y="527" width="128" height="49"/><text><tspan x="3409" y="548.5">microtubule-based</tspan><tspan x="3409" y="563.5">transport</tspan></text></g>
<g id="n_cdit" class="c"><rect x="3498" y="526.5" width="164" height="50"/><text><tspan x="3580" y="541">cytoskeleton-dependent</tspan><tspan x="3580" y="556">intracellular</tspan><tspan x="3580" y="571">transport</tspan></text></g>
<g id="n_emlmm" class="w"><rect x="3738" y="519" width="151" height="65"/><text><tspan x="3813.5" y="533.5">establishment</tspan><tspan x="3813.5" y="548.5">of mitochondrion</tspan><tspan x="3813.5" y="563.5">localization,</tspan><tspan x="3813.5" y="578.5">microtubule-mediated</tspan></text></g>
<g id="n_cytotrans" class="w"><rect x="3965" y="527" width="127" height="49"/><text><tspan x="4028.5" y="556">cytosolic transport</tspan></text></g>
<g id="n_dcgl" class="w"><rect x="4168" y="527" width="130" height="49"/><text><tspan x="4233" y="548.5">dense core granule</tspan><tspan x="4233" y="563.5">localization</tspan></text></g>
<g id="n_edeb" class="l"><rect x="4383" y="526.5" width="147" height="50"/><text><tspan x="4456.5" y="541">embryo development</tspan><tspan x="4456.5" y="556">ending in birth</tspan><tspan x="4456.5" y="571">or egg hatching</tspan></text></g>
<g id="n_prge" class="l"><rect x="2518" y="639.5" width="131" height="49"/><text><tspan x="2583.5" y="661">positive regulation</tspan><tspan x="2583.5" y="676">of gene expression</tspan></text></g>
<g id="n_tss" class="w"><rect x="2955" y="639.5" width="98" height="49"/><text><tspan x="3004" y="661">trans-synaptic</tspan><tspan x="3004" y="676">signaling</tspan></text></g>
<g id="n_tam" class="l"><rect x="3504" y="639.5" width="104" height="49"/><text><tspan x="3556" y="661">transport along</tspan><tspan x="3556" y="676">microtubule</tspan></text></g>
<g id="n_dcgt" class="w"><rect x="4013" y="639.5" width="132" height="49"/><text><tspan x="4079" y="661">dense core granule</tspan><tspan x="4079" y="676">transport</tspan></text></g>
<g id="n_atss" class="w"><rect x="2955" y="744" width="98" height="50"/><text><tspan x="3004" y="758.5">anterograde</tspan><tspan x="3004" y="773.5">trans-synaptic</tspan><tspan x="3004" y="788.5">signaling</tspan></text></g>
<g id="n_adt" class="w"><rect x="3510" y="744.5" width="92" height="49"/><text><tspan x="3556" y="766">axo-dendritic</tspan><tspan x="3556" y="781">transport</tspan></text></g>
<g id="n_otam" class="w"><rect x="3637" y="744.5" width="131" height="49"/><text><tspan x="3702.5" y="766">organelle transport</tspan><tspan x="3702.5" y="781">along microtubule</tspan></text></g>
<g id="n_vct" class="w"><rect x="3852" y="744.5" width="137" height="49"/><text><tspan x="3920.5" y="766">vesicle cytoskeletal</tspan><tspan x="3920.5" y="781">trafficking</tspan></text></g>
<g id="n_cst" class="w"><rect x="2942" y="843.5" width="124" height="49"/><text><tspan x="3004" y="865">chemical synaptic</tspan><tspan x="3004" y="880">transmission</tspan></text></g>
<g id="n_axt" class="w"><rect x="3499" y="843.5" width="113" height="49"/><text><tspan x="3555.5" y="872.5">axonal transport</tspan></text></g>
<g id="n_mtam" class="c"><rect x="3746" y="843" width="105" height="50"/><text><tspan x="3798.5" y="857.5">mitochondrion</tspan><tspan x="3798.5" y="872.5">transport along</tspan><tspan x="3798.5" y="887.5">microtubule</tspan></text></g>
<g id="n_dcgct" class="w"><rect x="3931" y="843" width="131" height="50"/><text><tspan x="3996.5" y="857.5">dense core granule</tspan><tspan x="3996.5" y="872.5">cytoskeletal</tspan><tspan x="3996.5" y="887.5">transport</tspan></text></g>
<g id="n_nnst" class="c"><rect x="2842" y="940.5" width="150" height="49"/><text><tspan x="2917" y="962">neuron-neuron</tspan><tspan x="2917" y="977">synaptic transmission</tspan></text></g>
<g id="n_nmst" class="c"><rect x="3016" y="940.5" width="149" height="49"/><text><tspan x="3090.5" y="962">neuromuscular</tspan><tspan x="3090.5" y="977">synaptic transmission</tspan></text></g>
<g id="n_aat" class="c"><rect x="3498" y="940.5" width="113" height="49"/><text><tspan x="3554.5" y="962">anterograde</tspan><tspan x="3554.5" y="977">axonal transport</tspan></text></g>
<g id="n_rat" class="w"><rect x="3636" y="940.5" width="123" height="49"/><text><tspan x="3697.5" y="962">retrograde axonal</tspan><tspan x="3697.5" y="977">transport</tspan></text></g>
<g id="n_vtam" class="w"><rect x="3784" y="940.5" width="123" height="49"/><text><tspan x="3845.5" y="962">vesicle transport</tspan><tspan x="3845.5" y="977">along microtubule</tspan></text></g>
<g id="n_andcvt" class="l"><rect x="3718" y="1037" width="107" height="64"/><text><tspan x="3771.5" y="1051">anterograde</tspan><tspan x="3771.5" y="1066">neuronal dense</tspan><tspan x="3771.5" y="1081">core vesicle</tspan><tspan x="3771.5" y="1096">transport</tspan></text></g>
<g id="n_rndcvt" class="l"><rect x="3850" y="1043.5" width="135" height="50"/><text><tspan x="3917.5" y="1058">retrograde neuronal</tspan><tspan x="3917.5" y="1073">dense core vesicle</tspan><tspan x="3917.5" y="1088">transport</tspan></text></g>
</g>
</svg>
